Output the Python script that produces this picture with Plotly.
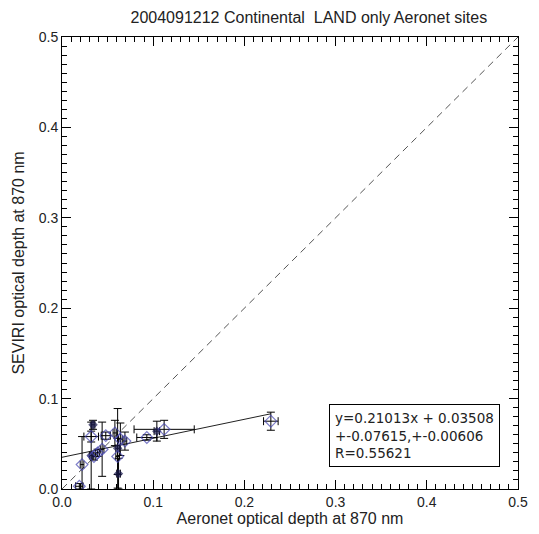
import plotly.graph_objects as go

# Aeronet vs SEVIRI optical depth at 870 nm, continental land sites
aeronet = [0.019, 0.022, 0.034, 0.032, 0.032, 0.035, 0.039, 0.044, 0.048, 0.058,
           0.061, 0.061, 0.062, 0.064, 0.069, 0.093, 0.104, 0.112, 0.229]
seviri = [0.003, 0.027, 0.071, 0.058, 0.037, 0.036, 0.040, 0.044, 0.059, 0.062,
          0.045, 0.036, 0.017, 0.055, 0.053, 0.057, 0.064, 0.066, 0.075]
aeronet_err = [0.004, 0.002, 0.002, 0.008, 0.002, 0.002, 0.002, 0.002, 0.005, 0.002,
               0.002, 0.002, 0.002, 0.002, 0.002, 0.011, 0.003, 0.033, 0.008]
seviri_err = [0.003, 0.031, 0.005, 0.006, 0.037, 0.004, 0.004, 0.030, 0.004, 0.014,
              0.044, 0.020, 0.017, 0.018, 0.010, 0.003, 0.011, 0.010, 0.010]
dense = [False, False, True, False, True, False, False, False, False, False,
         True, False, True, False, False, False, True, False, False]

slope, intercept = 0.21013, 0.03508
slope_err, intercept_err = 0.07615, 0.00606
r_value = 0.55621

FONT = "Liberation Sans, Arial"

fig = go.Figure()

# 1:1 reference line
fig.add_trace(go.Scatter(x=[0, 0.5], y=[0, 0.5], mode="lines",
                         line=dict(color="#555555", width=1, dash="7px,5px"),
                         hoverinfo="skip", showlegend=False))

# linear fit
fx = [0.0, max(aeronet)]
fig.add_trace(go.Scatter(x=fx, y=[slope * v + intercept for v in fx], mode="lines",
                         line=dict(color="#222222", width=1), showlegend=False))

# points with error bars
colors = ["#1c1c50" if d else "#4545b0" for d in dense]
fig.add_trace(go.Scatter(
    x=aeronet, y=seviri, mode="markers",
    error_x=dict(type="data", array=aeronet_err, color="black", thickness=1, width=4),
    error_y=dict(type="data", array=seviri_err, color="black", thickness=1, width=4),
    marker=dict(symbol=["diamond" if d else "diamond-open" for d in dense],
                size=[6 if d else 9 for d in dense],
                color=colors, line=dict(width=1.2, color=colors)),
    showlegend=False))


def axis_style(title_text, standoff):
    return dict(range=[0, 0.5], dtick=0.1, tickformat=".1f",
                ticks="inside", ticklen=9, tickwidth=1, tickcolor="#000000",
                showline=True, linecolor="#000000", linewidth=1, mirror="ticks",
                showgrid=False, zeroline=False,
                minor=dict(ticks="inside", ticklen=5, dtick=0.01, tickcolor="#000000"),
                tickfont=dict(family=FONT, size=14, color="#222"),
                title=dict(text=title_text, standoff=standoff,
                           font=dict(family=FONT, size=16, color="#222")))


fig.update_layout(
    width=539, height=534,
    margin=dict(l=62, r=11, t=37, b=41),
    paper_bgcolor="white", plot_bgcolor="white",
    title=dict(text="2004091212 Continental  LAND only Aeronet sites",
               x=0.573, xanchor="center", y=0.978, yanchor="top",
               font=dict(family=FONT, size=16, color="#222")),
    xaxis=axis_style("Aeronet optical depth at 870 nm", 2),
    yaxis=axis_style("SEVIRI optical depth at 870 nm", 10),
)

stats = (f"y={slope:.5f}x + {intercept:.5f}<br>"
         f"+-{slope_err:.5f},+-{intercept_err:.5f}<br>"
         f"R={r_value:.5f}")
fig.add_annotation(x=0.293, y=0.0945, xref="x", yref="y", xanchor="left", yanchor="top",
                   text=stats, showarrow=False, align="left",
                   font=dict(family="DejaVu Sans", size=13.5, color="#222"),
                   bordercolor="black", borderwidth=1, borderpad=5, bgcolor="white")

fig.write_html("out.html")
